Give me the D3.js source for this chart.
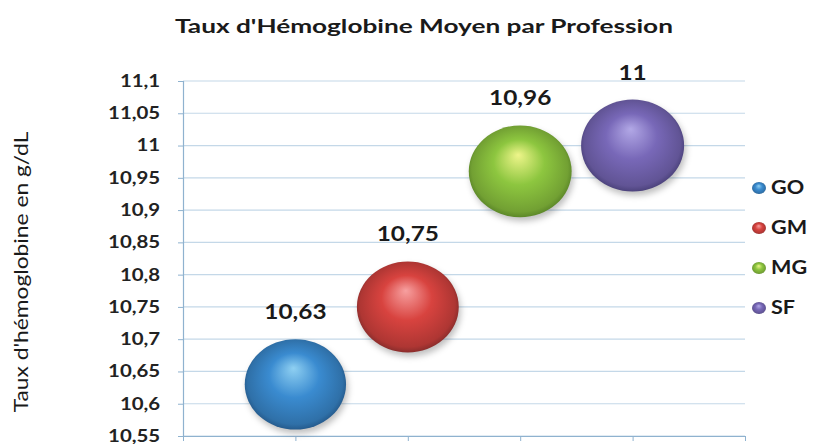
<!DOCTYPE html>
<html>
<head>
<meta charset="utf-8">
<script src="https://cdn.jsdelivr.net/npm/d3@7"></script>
<style>
  body { margin: 0; background: #fff; }
  text { font-family: Lato, "Open Sans", sans-serif; }
</style>
</head>
<body>
<div id="chart"></div>
<script>
// data
var categories = ["GO", "GM", "MG", "SF"];
var xValues = [1, 2, 3, 4];
var hbValues = [10.63, 10.75, 10.96, 11];
var bubbleSizes = [10.63, 10.75, 10.96, 11];
var valueLabels = ["10,63", "10,75", "10,96", "11"];
var yTickValues = [10.55, 10.6, 10.65, 10.7, 10.75, 10.8, 10.85, 10.9, 10.95, 11, 11.05, 11.1];
var yTickLabels = ["10,55", "10,6", "10,65", "10,7", "10,75", "10,8", "10,85", "10,9", "10,95", "11", "11,05", "11,1"];
var xTickValues = [1, 2, 3, 4, 5];
var baseColors = ["#3a8bd0", "#d8433f", "#8dc63f", "#7868b8"];
var lightColors = ["#8fd0f2", "#f7a0a0", "#eef58a", "#b2a8e6"];
var darkColors = ["#1d4a78", "#6e2626", "#4a7420", "#3b3468"];

var W = 820, H = 444;
var plotLeft = 183, plotRight = 745, plotTop = 81, plotBottom = 436;
var stretch = 1.2; // the reference text is drawn wide

var svg = d3.select("#chart")
  .append("svg")
  .attr("width", W)
  .attr("height", H);

var defs = svg.append("defs");

// sphere look for each series
categories.forEach(function(c, i) {
  var g = defs.append("radialGradient")
    .attr("id", "sph" + i)
    .attr("cx", "0.5").attr("cy", "0.5").attr("r", "0.55")
    .attr("fx", "0.48").attr("fy", "0.32");
  g.append("stop").attr("offset", "0%").attr("stop-color", lightColors[i]);
  g.append("stop").attr("offset", "45%").attr("stop-color", baseColors[i]);
  g.append("stop").attr("offset", "85%").attr("stop-color", d3.color(baseColors[i]).darker(0.6));
  g.append("stop").attr("offset", "100%").attr("stop-color", darkColors[i]);
});

var blur = defs.append("filter").attr("id", "shadow")
  .attr("x", "-20%").attr("y", "-20%").attr("width", "150%").attr("height", "150%");
blur.append("feGaussianBlur").attr("stdDeviation", 3);

var x = d3.scaleLinear().domain([0, 5]).range([plotLeft, plotRight]);
var y = d3.scaleLinear().domain([10.55, 11.1]).range([plotBottom, plotTop]);
var r = d3.scaleSqrt().domain([0, 11]).range([0, 46]);

// gridlines
svg.append("g")
  .selectAll("line")
  .data(yTickValues)
  .enter()
  .append("line")
  .attr("x1", plotLeft).attr("x2", plotRight)
  .attr("y1", d => y(d)).attr("y2", d => y(d))
  .attr("stroke", "#c4d8e8")
  .attr("stroke-width", 1.2);

// y axis
var yAxis = d3.axisLeft(y)
  .tickValues(yTickValues)
  .tickFormat((d, i) => yTickLabels[i])
  .tickSize(5)
  .tickPadding(8);

var gy = svg.append("g")
  .attr("transform", "translate(" + plotLeft + ",0)")
  .call(yAxis);
gy.select(".domain").attr("stroke", "#8fb2cf").attr("stroke-width", 1.2);
gy.selectAll(".tick line").attr("stroke", "#8fb2cf");
gy.selectAll(".tick text")
  .attr("x", -19)
  .attr("transform", "scale(" + stretch + ",1)")
  .style("font-size", "17px")
  .style("font-weight", "bold")
  .style("fill", "#222");

// x axis (labels fall below the visible area)
var gx = svg.append("g")
  .attr("transform", "translate(0," + plotBottom + ")")
  .call(d3.axisBottom(x).tickValues(xTickValues).tickSize(5).tickFormat(""));
gx.select(".domain").attr("stroke", "#8fb2cf");
gx.selectAll(".tick line").attr("stroke", "#8fb2cf");

// bubbles
var idx = d3.range(categories.length);

svg.append("g")
  .selectAll("ellipse")
  .data(idx)
  .enter()
  .append("ellipse")
  .attr("cx", i => x(xValues[i]) + 2)
  .attr("cy", i => y(hbValues[i]) + 4)
  .attr("rx", i => r(bubbleSizes[i]) * 1.12)
  .attr("ry", i => r(bubbleSizes[i]))
  .attr("fill", "rgba(0,0,0,0.25)")
  .attr("filter", "url(#shadow)");

svg.append("g")
  .selectAll("ellipse")
  .data(idx)
  .enter()
  .append("ellipse")
  .attr("cx", i => x(xValues[i]))
  .attr("cy", i => y(hbValues[i]))
  .attr("rx", i => r(bubbleSizes[i]) * 1.12)
  .attr("ry", i => r(bubbleSizes[i]))
  .attr("fill", (i) => "url(#sph" + i + ")");

// value labels
svg.append("g")
  .selectAll("text")
  .data(idx)
  .enter()
  .append("text")
  .attr("transform", i => "translate(" + x(xValues[i]) + "," + (y(hbValues[i]) - r(bubbleSizes[i]) - 20) + ") scale(1.22,1)")
  .attr("text-anchor", "middle")
  .style("font-size", "20px")
  .style("font-weight", "bold")
  .style("fill", "#1a1a1a")
  .text(i => valueLabels[i]);

// title
svg.append("text")
  .attr("transform", "translate(424,33) scale(1.38,1)")
  .attr("text-anchor", "middle")
  .style("font-size", "19px")
  .style("font-weight", "bold")
  .style("fill", "#1a1a1a")
  .text("Taux d'Hémoglobine Moyen par Profession");

// y axis title
svg.append("text")
  .attr("transform", "translate(28,272) rotate(-90) scale(1.2,1)")
  .attr("text-anchor", "middle")
  .style("font-size", "19px")
  .style("fill", "#1a1a1a")
  .text("Taux d'hémoglobine en g/dL");

// legend
var legend = svg.append("g")
  .selectAll("g")
  .data(idx)
  .enter()
  .append("g")
  .attr("transform", i => "translate(759," + (188 + i * 40) + ")");

legend.append("ellipse")
  .attr("rx", 7).attr("ry", 6)
  .attr("fill", i => "url(#sph" + i + ")");

legend.append("text")
  .attr("transform", "translate(12,0) scale(1.2,1)")
  .attr("dy", "0.36em")
  .style("font-size", "18px")
  .style("font-weight", "bold")
  .style("fill", "#1a1a1a")
  .text(i => categories[i]);
</script>
</body>
</html>
